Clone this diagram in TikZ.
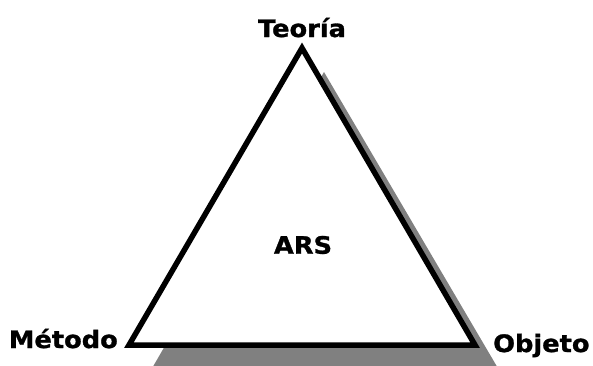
\documentclass[tikz,border=0pt]{standalone}
\usepackage{fontspec}
\newfontfamily\lblfont[FakeStretch=1.07,FakeBold=1.2]{DejaVu Sans Bold}
\definecolor{shadowgrey}{HTML}{808080}
\begin{document}
\begin{tikzpicture}[x=1pt,y=-1pt,
  lbl/.style={font=\lblfont\fontsize{24}{28}\selectfont, inner sep=0pt},
  tri/.style={draw=black, line width=5.5pt, line join=miter, fill=white},
  shade/.style={fill=shadowgrey}]
\useasboundingbox (0,0) rectangle (593,365);
\clip (0,0) rectangle (593,365);
\coordinate (top) at (302,48);
\coordinate (left) at (129,345);
\coordinate (right) at (475,345);
\coordinate (stop) at (324,72);
\coordinate (sleft) at (151,370);
\coordinate (sright) at (499,370);
\fill[shade] (stop) -- (sleft) -- (sright) -- cycle;
\draw[tri] (top) -- (left) -- (right) -- cycle;
\node[lbl, anchor=base] (teoria) at (302,37) {Teoría};
\node[lbl, anchor=base east] (metodo) at (118,348) {Método};
\node[lbl, anchor=base west] (objeto) at (493,352) {Objeto};
\node[lbl] (ars) at (303,245) {ARS};
\end{tikzpicture}
\end{document}
